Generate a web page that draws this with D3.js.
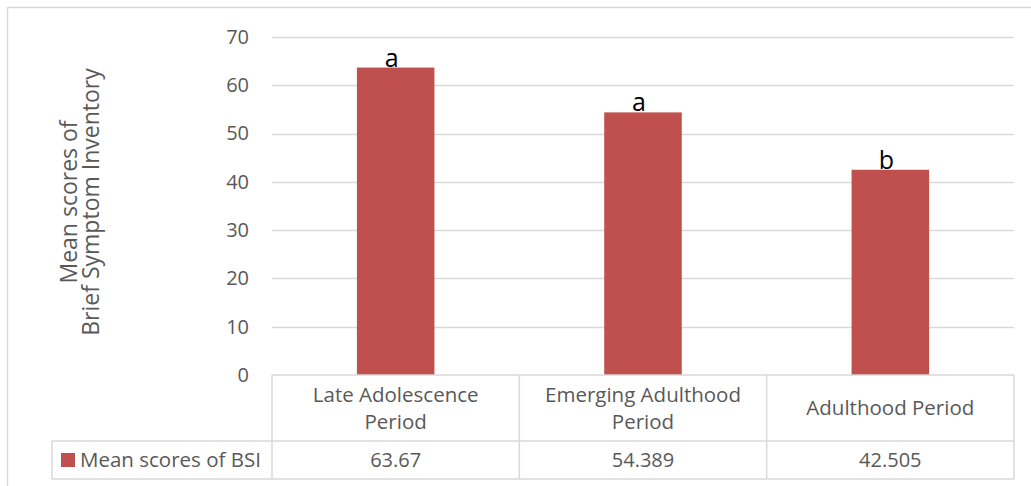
<!DOCTYPE html>
<html>
<head>
<meta charset="utf-8">
<script src="https://cdn.jsdelivr.net/npm/d3@7"></script>
<style>
  html, body { margin: 0; padding: 0; background: #fff; }
  svg { display: block; }
  text { font-family: "Open Sans", "Noto Sans", sans-serif; }
</style>
</head>
<body>
<svg id="chart" width="1031" height="486"></svg>
<script>
// Mean BSI scores per developmental period
const categories = [["Late Adolescence", "Period"], ["Emerging Adulthood", "Period"], ["Adulthood Period"]];
const values = [63.67, 54.389, 42.505];
const valueLabels = ["63.67", "54.389", "42.505"];
const groupLetters = ["a", "a", "b"];
const yTicks = [0, 10, 20, 30, 40, 50, 60, 70];
const seriesName = "Mean scores of BSI";
const yTitle = ["Mean scores of", "Brief Symptom Inventory"];

const svg = d3.select("#chart");
const plot = { left: 272, right: 1014, top: 37, bottom: 375 };
const table = { row1: 375, row2: 441, bottom: 479, legendLeft: 52 };
const barColor = "#c0504d", textGray = "#595959", lineGray = "#d9d9d9";
const fs = "20px";

// chart area frame
svg.append("rect")
  .attr("x", 7.5).attr("y", 7.5).attr("width", 1030).attr("height", 490)
  .attr("fill", "none").attr("stroke", lineGray).attr("stroke-width", 1.5);

const x = d3.scaleBand().domain(d3.range(values.length))
  .range([plot.left, plot.right]).paddingInner(0).paddingOuter(0);
const y = d3.scaleLinear().domain([0, 70]).range([plot.bottom, plot.top]);

// gridlines
svg.append("g").selectAll("line").data(yTicks.filter(t => t > 0)).join("line")
  .attr("x1", plot.left).attr("x2", plot.right)
  .attr("y1", d => Math.round(y(d)) + 0.5).attr("y2", d => Math.round(y(d)) + 0.5)
  .attr("stroke", lineGray).attr("stroke-width", 1.5);

// y axis labels
const yAxis = d3.axisLeft(y).tickValues(yTicks).tickSize(0).tickPadding(0);
const yg = svg.append("g").attr("transform", `translate(${plot.left - 23},0)`).call(yAxis);
yg.select(".domain").remove();
yg.selectAll("text").attr("fill", textGray).style("font-size", fs)
  .style("font-family", "'Open Sans', sans-serif");

// y title
const yt = svg.append("text")
  .attr("transform", `translate(77,202) rotate(-90)`)
  .attr("text-anchor", "middle").attr("fill", textGray).style("font-size", "23px");
yt.selectAll("tspan").data(yTitle).join("tspan")
  .attr("x", 0).attr("dy", (d, i) => i === 0 ? 0 : 22).text(d => d);

// bars
const barW = x.bandwidth() / 3.19;
svg.append("g").selectAll("rect").data(values).join("rect")
  .attr("x", (d, i) => x(i) + x.bandwidth() / 2 - barW / 2)
  .attr("width", barW)
  .attr("y", d => y(d))
  .attr("height", d => y(0) - y(d))
  .attr("fill", barColor);

// significance letters
svg.append("g").selectAll("text").data(values).join("text")
  .attr("x", (d, i) => x(i) + x.bandwidth() / 2 - 4)
  .attr("y", d => y(d) - 1)
  .attr("text-anchor", "middle").attr("fill", "#000").style("font-size", "25px")
  .text((d, i) => groupLetters[i]);

// data table grid
const tg = svg.append("g").attr("stroke", lineGray).attr("stroke-width", 1.5).attr("fill", "none");
tg.append("line").attr("x1", plot.left).attr("x2", plot.right).attr("y1", table.row1).attr("y2", table.row1);
tg.append("line").attr("x1", table.legendLeft).attr("x2", plot.right).attr("y1", table.row2).attr("y2", table.row2);
tg.append("line").attr("x1", table.legendLeft).attr("x2", plot.right).attr("y1", table.bottom).attr("y2", table.bottom);
tg.append("line").attr("x1", table.legendLeft).attr("x2", table.legendLeft).attr("y1", table.row2).attr("y2", table.bottom);
tg.selectAll("line.col").data(d3.range(values.length + 1)).join("line").attr("class", "col")
  .attr("x1", i => i < values.length ? x(i) : plot.right)
  .attr("x2", i => i < values.length ? x(i) : plot.right)
  .attr("y1", table.row1).attr("y2", table.bottom);

// category names
const catG = svg.append("g").selectAll("text").data(categories).join("text")
  .attr("text-anchor", "middle").attr("fill", textGray).style("font-size", "20.5px")
  .attr("transform", (d, i) => `translate(${x(i) + x.bandwidth() / 2},${(table.row1 + table.row2) / 2 + 7 - (d.length - 1) * 13.5})`);
catG.selectAll("tspan").data(d => d).join("tspan")
  .attr("x", 0).attr("dy", (d, i) => i === 0 ? 0 : 27).text(d => d);

// values row
svg.append("g").selectAll("text").data(valueLabels).join("text")
  .attr("x", (d, i) => x(i) + x.bandwidth() / 2)
  .attr("y", 467)
  .attr("text-anchor", "middle").attr("fill", textGray).style("font-size", fs)
  .text(d => d);

// legend key
svg.append("rect").attr("x", 61).attr("y", 453).attr("width", 14).attr("height", 14).attr("fill", barColor);
svg.append("text").attr("x", 80).attr("y", 467)
  .attr("fill", textGray).style("font-size", "20.5px").text(seriesName);
</script>
</body>
</html>
